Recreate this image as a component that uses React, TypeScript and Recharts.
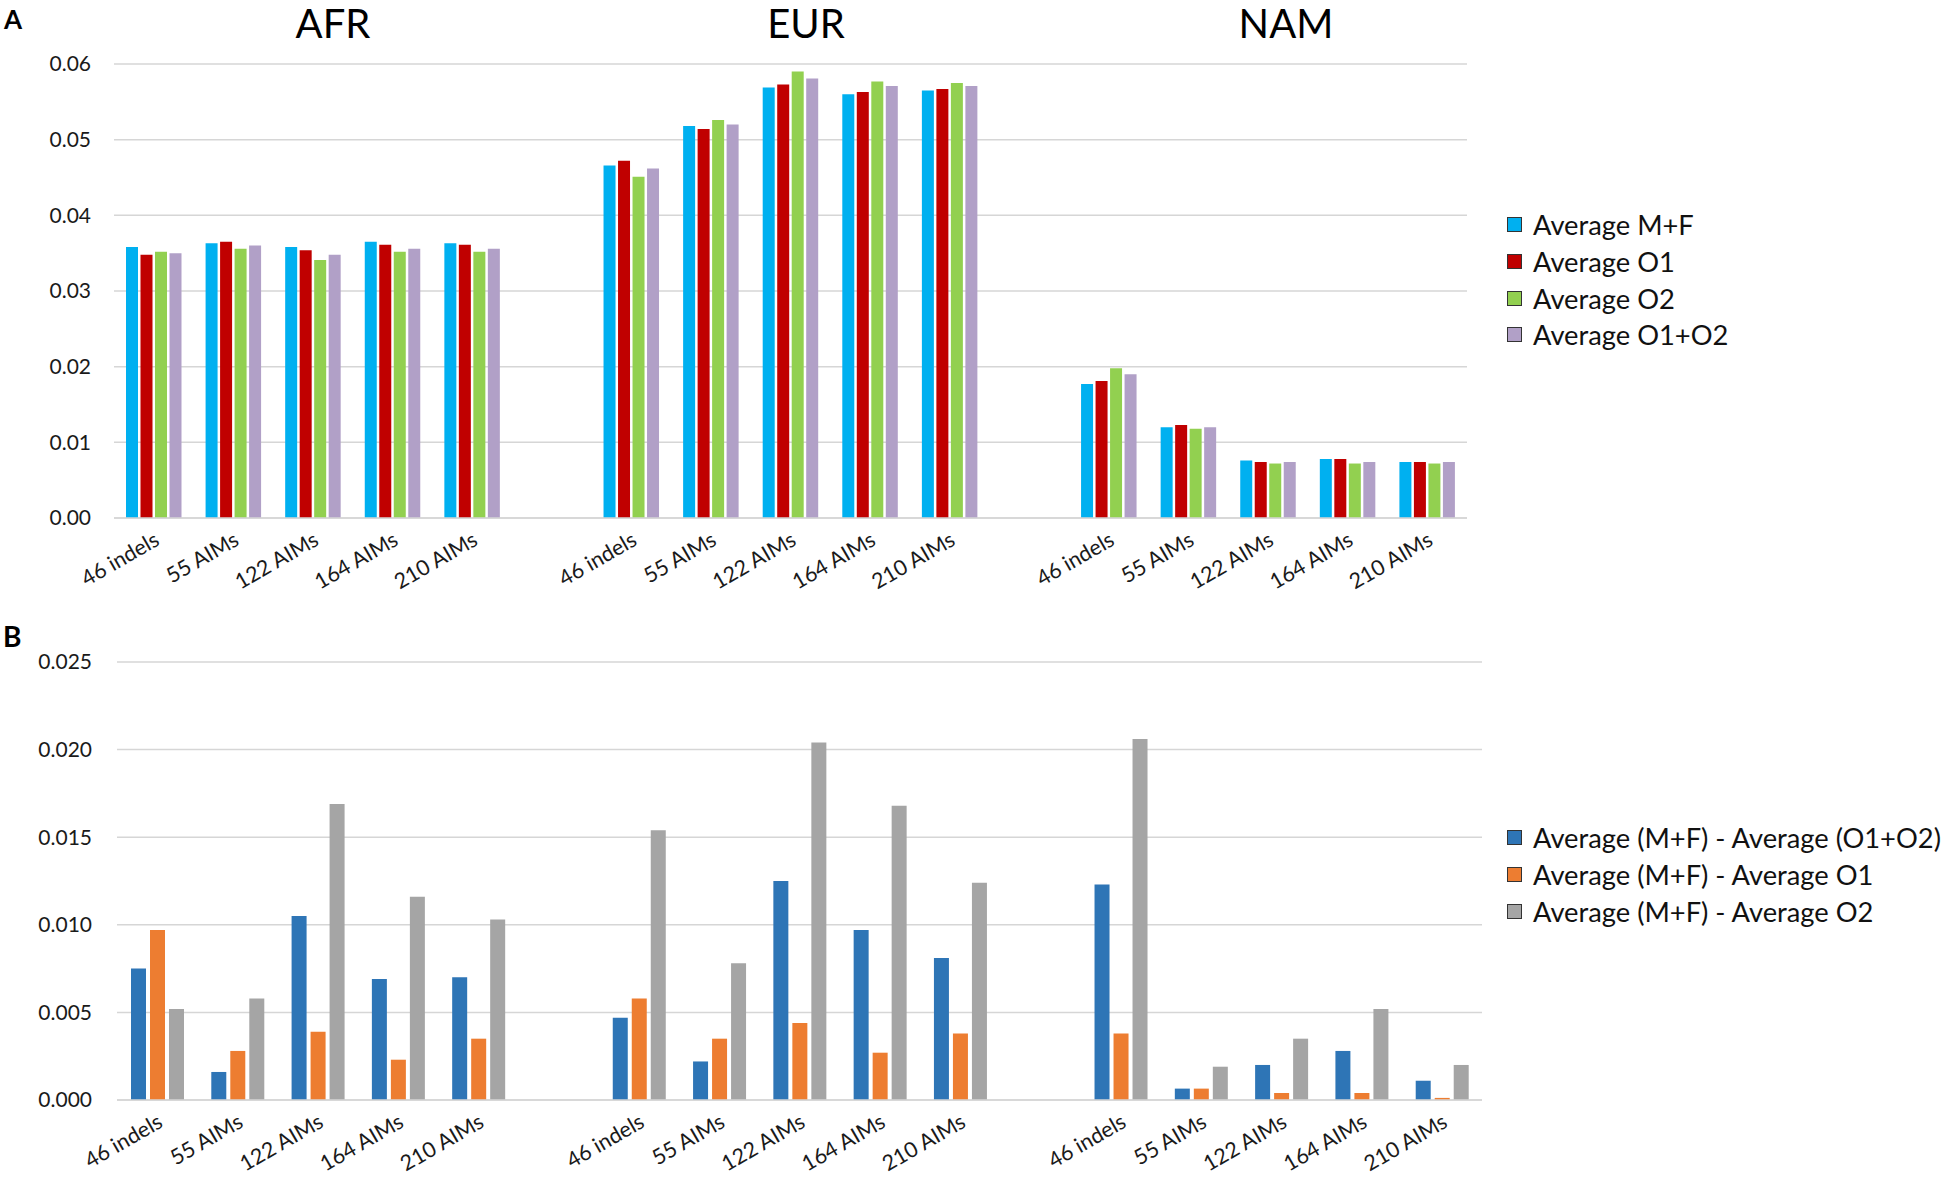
import React from 'react';
import { BarChart, Bar, XAxis, YAxis, CartesianGrid, Legend } from 'recharts';

const regions = ['AFR', 'EUR', 'NAM'];
const markerSets = ['46 indels', '55 AIMs', '122 AIMs', '164 AIMs', '210 AIMs'];

// Panel A values (AFR x5, EUR x5, NAM x5)
const averageMF = [0.0358, 0.0363, 0.0358, 0.0365, 0.0363, 0.0466, 0.0518, 0.0569, 0.0560, 0.0565, 0.0177, 0.0120, 0.0076, 0.0078, 0.0074];
const averageO1 = [0.0348, 0.0365, 0.0354, 0.0361, 0.0361, 0.0472, 0.0514, 0.0573, 0.0563, 0.0567, 0.0181, 0.0123, 0.0074, 0.0078, 0.0074];
const averageO2 = [0.0352, 0.0356, 0.0341, 0.0352, 0.0352, 0.0451, 0.0526, 0.0590, 0.0577, 0.0575, 0.0198, 0.0118, 0.0072, 0.0072, 0.0072];
const averageO1O2 = [0.0350, 0.0360, 0.0348, 0.0356, 0.0356, 0.0462, 0.0520, 0.0581, 0.0571, 0.0571, 0.0190, 0.0120, 0.0074, 0.0074, 0.0074];

// Panel B values
const diffO1O2 = [0.0075, 0.0016, 0.0105, 0.0069, 0.0070, 0.0047, 0.0022, 0.0125, 0.0097, 0.0081, 0.0123, 0.00065, 0.0020, 0.0028, 0.0011];
const diffO1 = [0.0097, 0.0028, 0.0039, 0.0023, 0.0035, 0.0058, 0.0035, 0.0044, 0.0027, 0.0038, 0.0038, 0.00065, 0.0004, 0.0004, 0.00012];
const diffO2 = [0.0052, 0.0058, 0.0169, 0.0116, 0.0103, 0.0154, 0.0078, 0.0204, 0.0168, 0.0124, 0.0206, 0.0019, 0.0035, 0.0052, 0.0020];

const yTicksA = [0, 0.01, 0.02, 0.03, 0.04, 0.05, 0.06];
const yTicksB = [0, 0.005, 0.01, 0.015, 0.02, 0.025];

const seriesA = [
  { key: 'mf', name: 'Average M+F', values: averageMF, color: '#00B0F0' },
  { key: 'o1', name: 'Average O1', values: averageO1, color: '#C00000' },
  { key: 'o2', name: 'Average O2', values: averageO2, color: '#92D050' },
  { key: 'o12', name: 'Average O1+O2', values: averageO1O2, color: '#B1A0C7' },
];
const seriesB = [
  { key: 'd12', name: 'Average (M+F) - Average (O1+O2)', values: diffO1O2, color: '#2E75B6' },
  { key: 'd1', name: 'Average (M+F) - Average O1', values: diffO1, color: '#ED7D31' },
  { key: 'd2', name: 'Average (M+F) - Average O2', values: diffO2, color: '#A5A5A5' },
];

function buildRows(series: { key: string; values: number[] }[]) {
  const rows: any[] = [];
  regions.forEach((r, gi) => {
    if (gi > 0) rows.push({ cat: `gap${gi}` });
    markerSets.forEach((m, mi) => {
      const row: any = { cat: `${r}|${m}` };
      series.forEach((s) => {
        row[s.key] = s.values[gi * 5 + mi];
      });
      rows.push(row);
    });
  });
  return rows;
}

const rowsA = buildRows(seriesA);
const rowsB = buildRows(seriesB);

const FONT = 'Lato, "Open Sans", sans-serif';
const GRID = '#D6D6D6';

const CategoryTick = (props: any) => {
  const { x, y, payload } = props;
  const v = String(payload.value);
  if (v.startsWith('gap')) return <g />;
  const label = v.split('|')[1];
  const ax = x + 7;
  const ay = y + 18;
  return (
    <text x={ax} y={ay} textAnchor="end" transform={`rotate(-30, ${ax}, ${ay})`} fontFamily={FONT} fontSize={21.5} fill="#1a1a1a">
      {label}
    </text>
  );
};

const makeLegend = (series: { name: string; color: string }[], rowH: number) => () => (
  <div style={{ fontFamily: FONT, fontSize: 27.3, color: '#111' }}>
    {series.map((s) => (
      <div key={s.name} style={{ height: rowH, display: 'flex', alignItems: 'center', whiteSpace: 'nowrap' }}>
        <span style={{ display: 'inline-block', width: 13, height: 13, background: s.color, border: '1px solid #333', marginRight: 11 }} />
        <span>{s.name}</span>
      </div>
    ))}
  </div>
);

export default function App() {
  return (
    <div style={{ position: 'absolute', left: 0, top: 0, width: 1950, height: 1177, background: '#fff', overflow: 'hidden' }}>
      <div style={{ position: 'absolute', left: 0, top: 0 }}>
        <BarChart
          width={1950}
          height={620}
          data={rowsA}
          margin={{ top: 64, right: 483, bottom: 42, left: 54 }}
          barCategoryGap={12}
          barGap={2.5}
        >
          <CartesianGrid vertical={false} stroke={GRID} strokeWidth={1.5} />
          <XAxis dataKey="cat" height={60} interval={0} tick={<CategoryTick />} tickLine={false} axisLine={{ stroke: GRID, strokeWidth: 1.5 }} />
          <YAxis
            width={60}
            domain={[0, 0.06]}
            ticks={yTicksA}
            tickFormatter={(v: number) => v.toFixed(2)}
            axisLine={false}
            tickLine={false}
            tickSize={0}
            tickMargin={23}
            tick={{ fontFamily: FONT, fontSize: 21, fill: '#1a1a1a' }}
            interval={0}
          />
          {seriesA.map((s) => (
            <Bar key={s.key} dataKey={s.key} name={s.name} fill={s.color} isAnimationActive={false} />
          ))}
          <Legend
            layout="vertical"
            verticalAlign="middle"
            align="center"
            content={makeLegend(seriesA, 36.6)}
            wrapperStyle={{ position: 'absolute', left: 1507, top: 206.7, width: 440, right: 'auto', bottom: 'auto' }}
          />
        </BarChart>
      </div>
      <div style={{ position: 'absolute', left: 0, top: 600 }}>
        <BarChart
          width={1950}
          height={577}
          data={rowsB}
          margin={{ top: 62, right: 468, bottom: 17, left: 57 }}
          barCategoryGap={14}
          barGap={4}
        >
          <CartesianGrid vertical={false} stroke={GRID} strokeWidth={1.5} />
          <XAxis dataKey="cat" height={60} interval={0} tick={<CategoryTick />} tickLine={false} axisLine={{ stroke: GRID, strokeWidth: 1.5 }} />
          <YAxis
            width={60}
            domain={[0, 0.025]}
            ticks={yTicksB}
            tickFormatter={(v: number) => v.toFixed(3)}
            axisLine={false}
            tickLine={false}
            tickSize={0}
            tickMargin={25}
            tick={{ fontFamily: FONT, fontSize: 21, fill: '#1a1a1a' }}
            interval={0}
          />
          {seriesB.map((s) => (
            <Bar key={s.key} dataKey={s.key} name={s.name} fill={s.color} isAnimationActive={false} />
          ))}
          <Legend
            layout="vertical"
            verticalAlign="middle"
            align="center"
            content={makeLegend(seriesB, 36.75)}
            wrapperStyle={{ position: 'absolute', left: 1507, top: 219.6, width: 450, right: 'auto', bottom: 'auto' }}
          />
        </BarChart>
      </div>
      <svg width={1950} height={1177} style={{ position: 'absolute', left: 0, top: 0, pointerEvents: 'none' }}>
        <text x={4} y={28.7} fontFamily={FONT} fontWeight={700} fontSize={26} fill="#000">A</text>
        <text x={3} y={646.7} fontFamily={FONT} fontWeight={700} fontSize={28} fill="#000">B</text>
        <text x={333} y={38} textAnchor="middle" fontFamily={FONT} fontSize={40} fill="#000">{regions[0]}</text>
        <text x={806} y={38} textAnchor="middle" fontFamily={FONT} fontSize={40} fill="#000">{regions[1]}</text>
        <text x={1286} y={38} textAnchor="middle" fontFamily={FONT} fontSize={40} fill="#000">{regions[2]}</text>
      </svg>
    </div>
  );
}
